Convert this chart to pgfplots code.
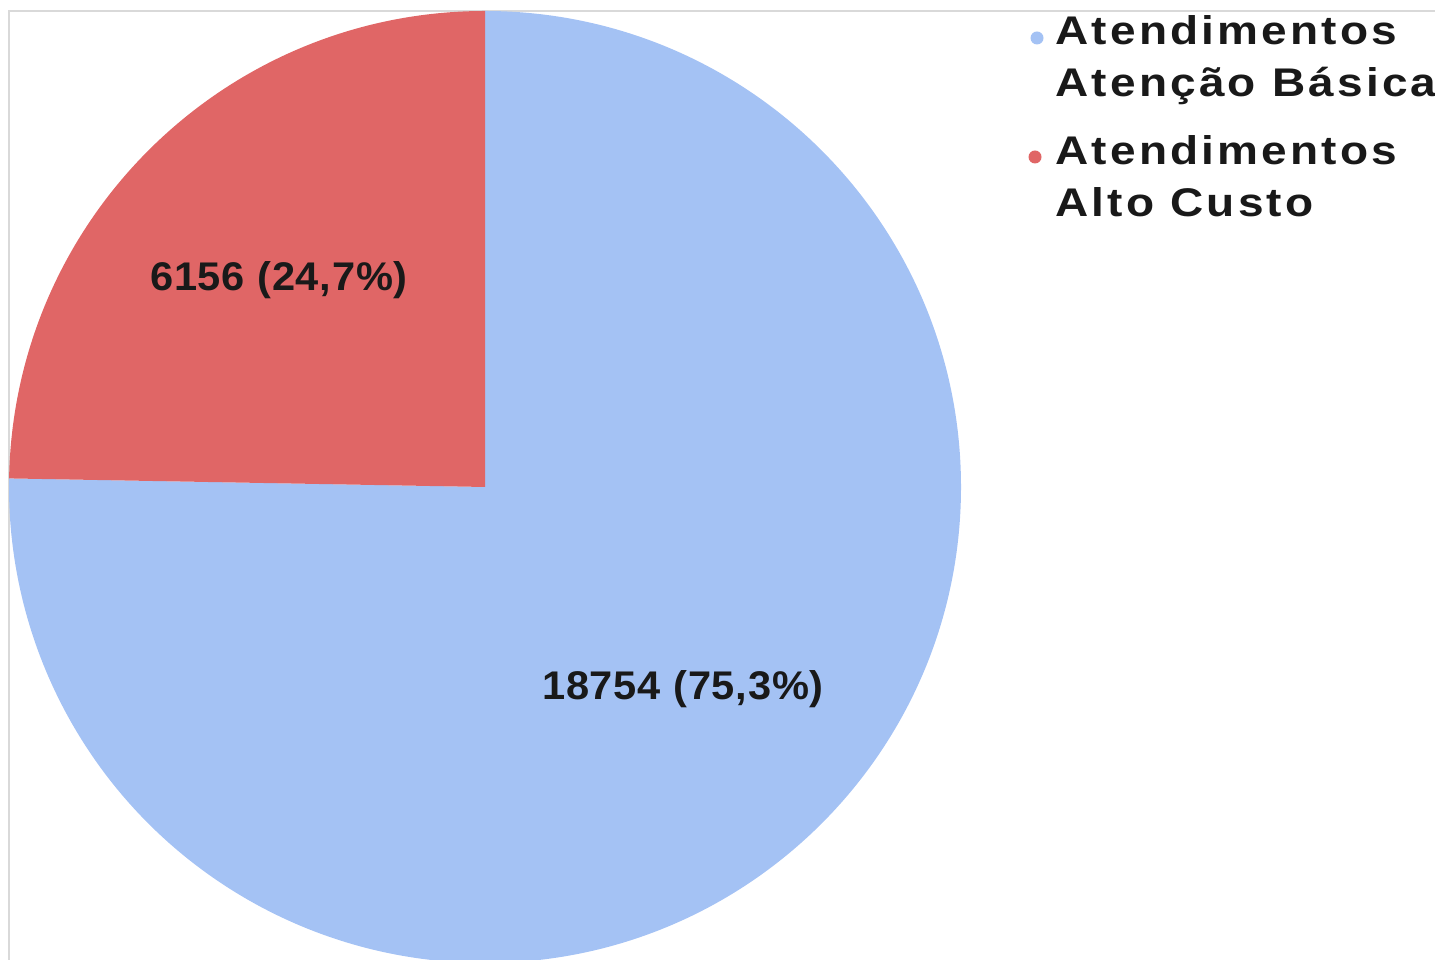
\documentclass[border=0pt]{standalone}
\usepackage{fontspec}
\setmainfont{Liberation Sans}
\newfontfamily\rotfont[FakeStretch=1.04, LetterSpace=2]{Liberation Sans}
\newfontfamily\legfont[FakeStretch=1.15, LetterSpace=8]{Liberation Sans}
\usepackage{pgfplots}
\usepackage{pgfplotstable}
\pgfplotsset{compat=1.18}

\definecolor{azul}{HTML}{A4C2F4}
\definecolor{verm}{HTML}{E06666}
\definecolor{moldura}{HTML}{D9D9D9}

\pgfplotstableread{
valor rotulo
18754 basica
6156  altocusto
}\dados

\begin{document}
\begin{tikzpicture}
  \pgfplotstablegetelem{0}{valor}\of\dados \let\valA\pgfplotsretval
  \pgfplotstablegetelem{1}{valor}\of\dados \let\valB\pgfplotsretval
  % angulo da fatia vermelha (fpu: os valores passam de 16383)
  \pgfkeys{/pgf/fpu=true, /pgf/fpu/output format=fixed}
  \pgfmathsetmacro{\angB}{360*\valB/(\valA+\valB)}
  \pgfkeys{/pgf/fpu=false}
  % coordenadas do eixo = pixels da imagem (y invertido)
  \begin{axis}[
      scale only axis,
      width=717.5pt, height=479.5pt,
      xmin=0, xmax=1435, ymin=0, ymax=959,
      hide axis, clip=false,
    ]
    % moldura cinza
    \draw[moldura, line width=0.8pt] (axis cs:9,-50) -- (axis cs:9,948) -- (axis cs:1500,948);
    % fatias (raio 476 px = 238pt), sentido horario a partir do topo
    \fill[azul] (axis cs:485,472) -- ++(90:238pt)
      arc[start angle=90, end angle=\angB-270, radius=238pt] -- cycle;
    \fill[verm] (axis cs:485,472) -- ++(90:238pt)
      arc[start angle=90, end angle=90+\angB, radius=238pt] -- cycle;
    % rotulos
    \node[font=\rotfont\bfseries\fontsize{20}{24}\selectfont, text=black!90, inner sep=0pt]
      at (axis cs:279,679) {6156 (24,7\%)};
    \node[font=\rotfont\bfseries\fontsize{20}{24}\selectfont, text=black!90, inner sep=0pt]
      at (axis cs:683,270) {18754 (75,3\%)};
    % legenda
    \fill[azul] (axis cs:1037,921) circle (3.25pt);
    \fill[verm] (axis cs:1035,802) circle (3.25pt);
    \begin{scope}[every node/.style={font=\legfont\bfseries\fontsize{20}{24}\selectfont,
        text=black!90, inner sep=0pt, anchor=base west}]
      \node at (axis cs:1055,914) {Atendimentos};
      \node at (axis cs:1055,862) {Atenção Básica};
      \node at (axis cs:1055,794) {Atendimentos};
      \node at (axis cs:1055,742) {Alto Custo};
    \end{scope}
  \end{axis}
  \pgfresetboundingbox
  \useasboundingbox (current axis.south west) rectangle (current axis.north east);
\end{tikzpicture}
\end{document}
